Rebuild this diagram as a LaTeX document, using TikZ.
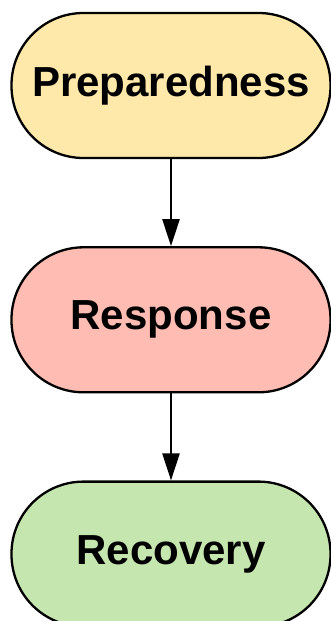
\documentclass[tikz,border=0pt]{standalone}
\usepackage{fontspec}
\setmainfont{Liberation Sans}
\usepackage{xcolor}
\usetikzlibrary{positioning,arrows.meta}

\definecolor{prepfill}{HTML}{FEE9AA}
\definecolor{respfill}{HTML}{FFBCB2}
\definecolor{recovfill}{HTML}{C6E6AF}

\begin{document}
\begin{tikzpicture}[
  every node/.style={draw, line width=2.3pt, rounded corners=72pt,
    minimum width=319pt, minimum height=145pt, inner sep=0pt,
    font=\fontsize{42}{48}\selectfont\bfseries},
  node distance=87pt,
  prep/.style={fill=prepfill},
  resp/.style={fill=respfill},
  recov/.style={fill=recovfill},
  flow/.style={-{Triangle[length=27pt,width=17pt]}, line width=2.3pt}
]
\useasboundingbox (0,0) rectangle (331pt,-621pt);
\node[prep] (prep) at (171pt,-85.5pt) {Preparedness};
\node[resp, below=of prep] (resp) {Response};
\node[recov, below=of resp] (recov) {Recovery};
\draw[flow] (prep) -- (resp);
\draw[flow] (resp) -- (recov);
\end{tikzpicture}
\end{document}
